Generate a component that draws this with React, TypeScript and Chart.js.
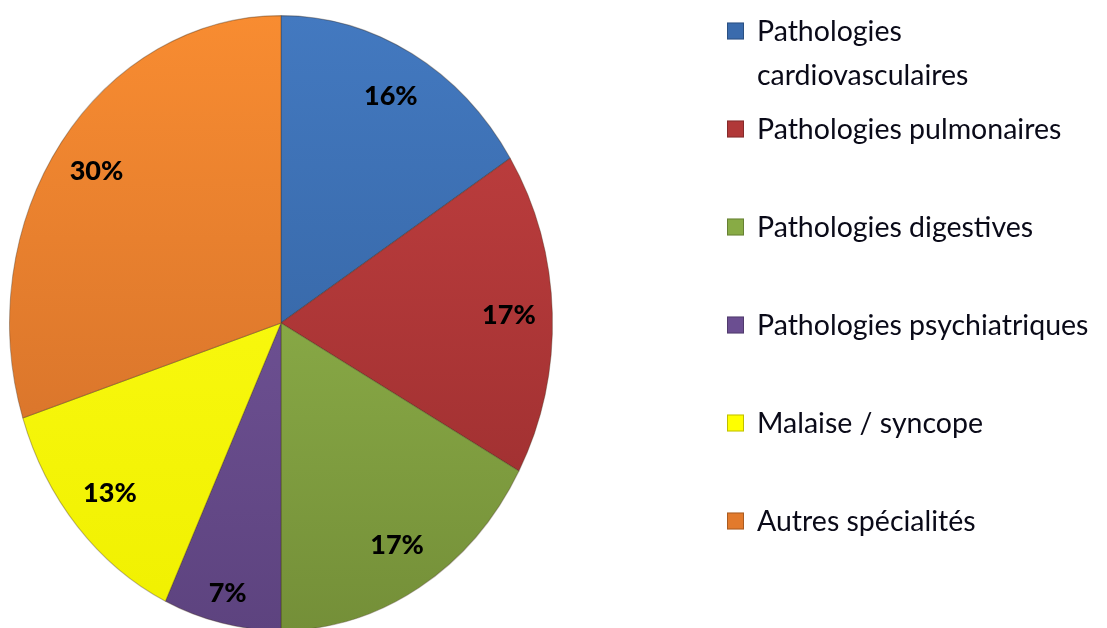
import React, { useEffect, useRef } from "react";
import { Chart, registerables } from "chart.js";

Chart.register(...registerables);

// ---- data ----
const categories: (string | string[])[] = [
  ["Pathologies", "cardiovasculaires"],
  "Pathologies pulmonaires",
  "Pathologies digestives",
  "Pathologies psychiatriques",
  "Malaise / syncope",
  "Autres spécialités",
];
const shares = [16, 17, 17, 7, 13, 30];
const shareLabels = ["16%", "17%", "17%", "7%", "13%", "30%"];

// ---- styles ----
const lightColors = ["#4379C0", "#C44141", "#9AC052", "#7B5CA3", "#FFFF1A", "#F88C31"];
const darkColors = ["#2F5C97", "#972C2D", "#748F38", "#5D437F", "#F0F000", "#CC6B29"];
const swatchColors = ["#3A6BAD", "#B13838", "#88AB45", "#6B4E91", "#FFFF00", "#E27A2C"];
const labelRadiusFactor = [0.84, 0.84, 0.84, 0.9, 0.84, 0.84];
const Y_STRETCH = 308 / 272;

const ellipsePlugin = {
  id: "ellipse",
  beforeDatasetsDraw(chart: any) {
    const meta = chart.getDatasetMeta(0);
    const arc = meta.data[0];
    if (!arc) return;
    const { x, y } = arc;
    const ctx = chart.ctx;
    ctx.save();
    ctx.translate(x, y);
    ctx.scale(1, Y_STRETCH);
    ctx.translate(-x, -y);
  },
  afterDatasetsDraw(chart: any) {
    chart.ctx.restore();
  },
};

const pctLabelPlugin = {
  id: "pctLabels",
  afterDraw(chart: any) {
    const ctx = chart.ctx;
    const meta = chart.getDatasetMeta(0);
    ctx.save();
    ctx.font = "900 27px Lato, 'Open Sans', sans-serif";
    ctx.fillStyle = "#000";
    ctx.textAlign = "center";
    ctx.textBaseline = "middle";
    meta.data.forEach((arc: any, i: number) => {
      const p = arc.getProps(["x", "y", "startAngle", "endAngle", "outerRadius"], true);
      const mid = (p.startAngle + p.endAngle) / 2;
      const r = p.outerRadius * labelRadiusFactor[i];
      const lx = p.x + Math.cos(mid) * r;
      const ly = p.y + Math.sin(mid) * r * Y_STRETCH;
      ctx.fillText(shareLabels[i], lx, ly);
    });
    ctx.restore();
  },
};

const sideLegendPlugin = {
  id: "sideLegend",
  afterDraw(chart: any) {
    const ctx = chart.ctx;
    const labels = chart.data.labels as (string | string[])[];
    const x0 = 727;
    const y0 = 31;
    const step = 98;
    const lineH = 44;
    const box = 17;
    ctx.save();
    ctx.font = "28.5px Lato, 'Open Sans', sans-serif";
    ctx.textBaseline = "middle";
    ctx.textAlign = "left";
    labels.forEach((lab, i) => {
      const cy = y0 + i * step;
      ctx.fillStyle = swatchColors[i];
      ctx.fillRect(x0, cy - box / 2, box, box);
      ctx.strokeStyle = "rgba(0,0,0,0.25)";
      ctx.lineWidth = 1;
      ctx.strokeRect(x0 + 0.5, cy - box / 2 + 0.5, box - 1, box - 1);
      ctx.fillStyle = "#0a0a18";
      const lines = Array.isArray(lab) ? lab : [lab];
      lines.forEach((t, j) => ctx.fillText(t, x0 + 30, cy + j * lineH + 1));
    });
    ctx.restore();
  },
};

export default function App() {
  const ref = useRef<HTMLCanvasElement>(null);
  useEffect(() => {
    if (!ref.current) return;
    const chart = new Chart(ref.current, {
      type: "pie",
      data: {
        labels: categories,
        datasets: [
          {
            data: shares,
            backgroundColor: (c: any) => {
              const i = c.dataIndex;
              const area = c.chart.chartArea;
              if (!area || i === undefined) return swatchColors[i ?? 0];
              const g = c.chart.ctx.createLinearGradient(0, area.top, 0, area.bottom);
              g.addColorStop(0, lightColors[i]);
              g.addColorStop(1, darkColors[i]);
              return g;
            },
            borderColor: "rgba(60,40,20,0.35)",
            borderWidth: 1,
          },
        ],
      },
      options: {
        responsive: true,
        maintainAspectRatio: false,
        animation: false,
        layout: { padding: { left: 9, right: 554, top: 51, bottom: 33 } },
        plugins: {
          legend: { display: false },
          tooltip: { enabled: false },
        },
      },
      plugins: [ellipsePlugin, pctLabelPlugin, sideLegendPlugin],
    });
    return () => chart.destroy();
  }, []);
  return (
    <div style={{ position: "fixed", left: 0, top: 0, width: 1107, height: 628, background: "#fff" }}>
      <canvas ref={ref} />
    </div>
  );
}
